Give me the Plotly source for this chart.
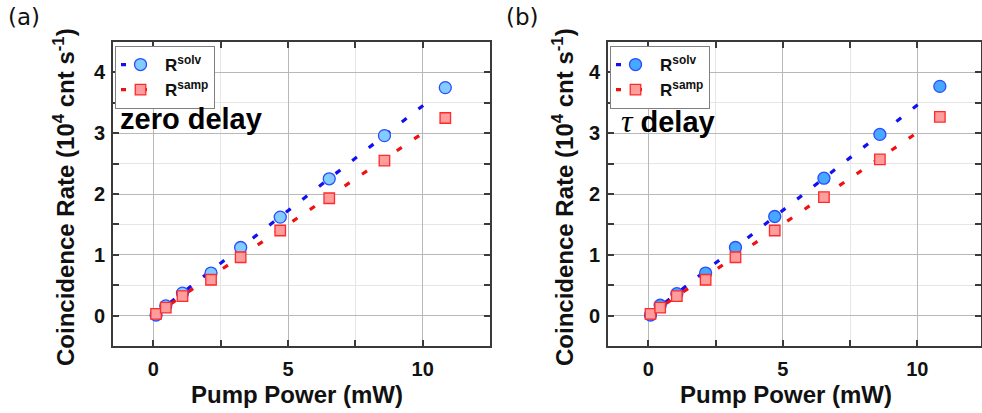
import plotly.graph_objects as go

W, H = 982, 413

# ---- data ----
power_a = [0.10, 0.46, 1.08, 2.14, 3.24, 4.71, 6.53, 8.58, 10.84]
solv_a = [0.01, 0.16, 0.37, 0.70, 1.12, 1.62, 2.25, 2.96, 3.75]
samp_a = [0.03, 0.13, 0.32, 0.59, 0.96, 1.40, 1.93, 2.55, 3.25]

power_b = [0.08, 0.44, 1.06, 2.13, 3.24, 4.70, 6.53, 8.61, 10.84]
solv_b = [0.01, 0.17, 0.36, 0.70, 1.12, 1.63, 2.26, 2.98, 3.77]
samp_b = [0.03, 0.13, 0.32, 0.59, 0.96, 1.40, 1.95, 2.57, 3.27]

fit_x = [0.0, 10.2]
fit_solv_a = [0.0, 3.52]
fit_samp_a = [0.0, 3.06]
fit_solv_b = [0.0, 3.53]
fit_samp_b = [0.0, 3.07]

x_ticks = [0, 5, 10]
y_ticks = [0, 1, 2, 3, 4]

FONT = "Liberation Sans"
SPINE = "#3a3a3a"
BLUE_LINE = "#1010f0"
RED_LINE = "#f01010"
CIRC_EDGE = "#2a4cff"
SQ_FILL = "#ff9c9c"
SQ_EDGE = "#ff2a2a"


def px_x(p):
    return p / W


def px_y(p):
    return 1 - p / H


fig = go.Figure()


def add_panel(xa, ya, leg, power, solv, samp, fsolv, fsamp, circ_fill):
    # dotted linear fits
    fig.add_trace(go.Scatter(
        x=fit_x, y=fsolv, mode="lines", xaxis=xa, yaxis=ya, showlegend=False,
        line=dict(color=BLUE_LINE, width=3.2, dash="6px,15px"), hoverinfo="skip"))
    fig.add_trace(go.Scatter(
        x=fit_x, y=fsamp, mode="lines", xaxis=xa, yaxis=ya, showlegend=False,
        line=dict(color=RED_LINE, width=3.2, dash="6px,15px"), hoverinfo="skip"))
    # measured points
    fig.add_trace(go.Scatter(
        x=power, y=solv, mode="markers", xaxis=xa, yaxis=ya, showlegend=False,
        marker=dict(symbol="circle", size=12, color=circ_fill,
                    line=dict(color=CIRC_EDGE, width=1.3))))
    fig.add_trace(go.Scatter(
        x=power, y=samp, mode="markers", xaxis=xa, yaxis=ya, showlegend=False,
        marker=dict(symbol="square", size=10.5, color=SQ_FILL,
                    line=dict(color=SQ_EDGE, width=1.3))))
    # legend entries (fit line + marker)
    fig.add_trace(go.Scatter(
        x=[None], y=[None], mode="lines+markers", xaxis=xa, yaxis=ya, legend=leg,
        name="<b>R<sup>solv</sup></b>",
        line=dict(color=BLUE_LINE, width=3.2, dash="5px,16px"),
        marker=dict(symbol="circle", size=12, color=circ_fill,
                    line=dict(color=CIRC_EDGE, width=1.3))))
    fig.add_trace(go.Scatter(
        x=[None], y=[None], mode="lines+markers", xaxis=xa, yaxis=ya, legend=leg,
        name="<b>R<sup>samp</sup></b>",
        line=dict(color=RED_LINE, width=3.2, dash="5px,16px"),
        marker=dict(symbol="square", size=10.5, color=SQ_FILL,
                    line=dict(color=SQ_EDGE, width=1.3))))


add_panel("x", "y", "legend", power_a, solv_a, samp_a, fit_solv_a, fit_samp_a, "#82ccff")
add_panel("x2", "y2", "legend2", power_b, solv_b, samp_b, fit_solv_b, fit_samp_b, "#46a8ff")

ydom = [px_y(346), px_y(42)]


def xaxis_cfg(domain, rng, anchor):
    return dict(
        domain=domain, range=rng, tickvals=x_ticks, ticks="inside", ticklen=6,
        tickwidth=2, tickcolor=SPINE, showline=True, linewidth=2, linecolor=SPINE,
        mirror="allticks", showgrid=True, gridcolor="#b8b8b8", gridwidth=1,
        zeroline=False, ticklabelstandoff=4, anchor=anchor,
        tickfont=dict(family=FONT, size=20, color="#111", weight="bold"),
        minor=dict(dtick=2.5, tick0=0, ticks="inside", ticklen=6, tickwidth=2,
                   tickcolor=SPINE, showgrid=True, gridcolor="#e6e6e6", gridwidth=1),
    )


def yaxis_cfg(anchor):
    return dict(
        domain=ydom, range=[-0.5, 4.5], tickvals=y_ticks, ticks="inside", ticklen=6,
        tickwidth=2, tickcolor=SPINE, showline=True, linewidth=2, linecolor=SPINE,
        mirror="allticks", showgrid=True, gridcolor="#b8b8b8", gridwidth=1,
        zeroline=False, anchor=anchor, ticklabelstandoff=2,
        tickfont=dict(family=FONT, size=20, color="#111", weight="bold"),
        minor=dict(dtick=0.5, tick0=0, ticks="inside", ticklen=6, tickwidth=2,
                   tickcolor=SPINE, showgrid=True, gridcolor="#e6e6e6", gridwidth=1),
    )


legend_common = dict(
    bgcolor="white", bordercolor="#808080", borderwidth=1,
    font=dict(family=FONT, size=17, color="#111"),
    xanchor="left", yanchor="top", tracegroupgap=0, itemwidth=39,
)

fig.update_layout(
    width=W, height=H, margin=dict(l=0, r=0, t=0, b=0),
    paper_bgcolor="white", plot_bgcolor="white",
    xaxis=xaxis_cfg([px_x(113), px_x(490)], [-1.5, 12.5], "y"),
    yaxis=yaxis_cfg("x"),
    xaxis2=xaxis_cfg([px_x(608), px_x(981)], [-1.5, 12.37], "y2"),
    yaxis2=yaxis_cfg("x2"),
    legend=dict(x=px_x(115), y=px_y(46), **legend_common),
    legend2=dict(x=px_x(610), y=px_y(46), **legend_common),
)

ytitle = "<b>Coincidence Rate (10<sup>4</sup> cnt s<sup>-1</sup>)</b>"
xtitle = "<b>Pump Power (mW)</b>"

ann = []
for cx_title, cx_ytitle, lab, lab_x in [(297, 64, "(a)", 6), (786, 563, "(b)", 504)]:
    ann.append(dict(x=px_x(cx_title), y=px_y(394), xref="paper", yref="paper",
                    text=xtitle, showarrow=False, xanchor="center", yanchor="middle",
                    font=dict(family=FONT, size=24, color="#111")))
    ann.append(dict(x=px_x(cx_ytitle), y=px_y(197), xref="paper", yref="paper",
                    text=ytitle, showarrow=False, xanchor="center", yanchor="middle",
                    textangle=-90, font=dict(family=FONT, size=24, color="#111")))
    ann.append(dict(x=px_x(lab_x), y=px_y(17), xref="paper", yref="paper",
                    text=lab, showarrow=False, xanchor="left", yanchor="middle",
                    font=dict(family="DejaVu Sans", size=23, color="#111")))

ann.append(dict(x=px_x(118), y=px_y(119), xref="paper", yref="paper",
                text="<b>zero delay</b>", showarrow=False, xanchor="left",
                yanchor="middle", font=dict(family=FONT, size=29, color="#000")))
ann.append(dict(x=px_x(619), y=px_y(121), xref="paper", yref="paper",
                text="<span style='font-family:Liberation Serif;font-size:32px'><i>τ</i></span> <b>delay</b>",
                showarrow=False, xanchor="left", yanchor="middle",
                font=dict(family=FONT, size=29, color="#000")))

fig.update_layout(annotations=ann)

fig.write_html("out.html")
